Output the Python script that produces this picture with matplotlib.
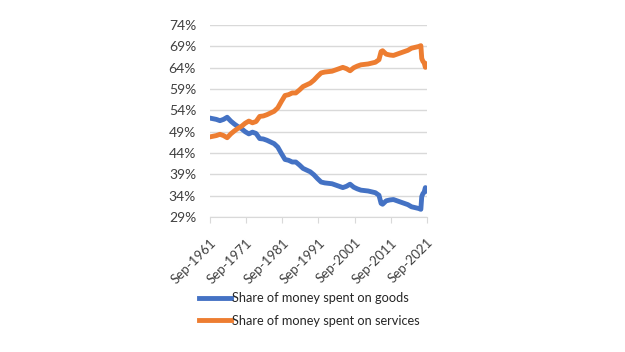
import matplotlib
matplotlib.use("Agg")
import matplotlib.pyplot as plt
import matplotlib.transforms as mtransforms
import pandas as pd

dates = ["1961-09", "1963-06", "1964-06", "1965-06", "1966-06", "1967-06", "1968-06",
         "1969-06", "1970-06", "1971-06", "1972-06", "1973-06", "1974-06", "1975-06",
         "1976-06", "1977-06", "1978-06", "1979-06", "1980-06", "1981-06", "1982-06",
         "1983-06", "1984-06", "1985-06", "1986-06", "1987-06", "1988-06", "1989-06",
         "1990-06", "1991-06", "1992-06", "1993-06", "1994-06", "1995-06", "1996-06",
         "1997-06", "1998-06", "1999-06", "2000-06", "2001-06", "2002-06", "2003-06",
         "2004-06", "2005-06", "2006-06", "2007-06", "2008-06", "2009-01", "2009-06",
         "2010-06", "2011-06", "2012-06", "2013-06", "2014-06", "2015-06", "2016-06",
         "2017-06", "2018-06", "2019-06", "2020-01", "2020-04", "2020-08", "2020-12",
         "2021-04", "2021-09"]

goods = [52.2, 51.9, 51.6, 51.9, 52.4, 51.5, 50.8,
         50.2, 49.7, 49.0, 48.5, 48.9, 48.6, 47.4,
         47.3, 47.0, 46.6, 46.2, 45.4, 43.9, 42.5,
         42.3, 41.9, 41.9, 41.2, 40.4, 40.0, 39.6,
         38.9, 38.0, 37.2, 37.0, 36.9, 36.8, 36.5,
         36.2, 35.9, 36.2, 36.7, 36.0, 35.6, 35.3,
         35.2, 35.1, 34.9, 34.7, 34.1, 32.2, 32.0,
         32.8, 33.0, 33.1, 32.8, 32.5, 32.2, 31.9,
         31.4, 31.2, 31.0, 30.8, 33.8, 34.5, 34.8,
         35.9, 35.2]

services = [47.8, 48.1, 48.4, 48.1, 47.6, 48.5, 49.2,
            49.8, 50.3, 51.0, 51.5, 51.1, 51.4, 52.6,
            52.7, 53.0, 53.4, 53.8, 54.6, 56.1, 57.5,
            57.7, 58.1, 58.1, 58.8, 59.6, 60.0, 60.4,
            61.1, 62.0, 62.8, 63.0, 63.1, 63.2, 63.5,
            63.8, 64.1, 63.8, 63.3, 64.0, 64.4, 64.7,
            64.8, 64.9, 65.1, 65.3, 65.9, 67.8, 68.0,
            67.2, 67.0, 66.9, 67.2, 67.5, 67.8, 68.1,
            68.6, 68.8, 69.0, 69.2, 66.2, 65.5, 65.2,
            64.1, 64.8]

tick_labels = ["Sep-1961", "Sep-1971", "Sep-1981", "Sep-1991", "Sep-2001", "Sep-2011", "Sep-2021"]
y_ticks = [29, 34, 39, 44, 49, 54, 59, 64, 69, 74]

x = pd.to_datetime(dates)
tick_pos = pd.to_datetime(tick_labels, format="%b-%Y")

plt.rcParams['font.family'] = ['Lato', 'DejaVu Sans']

fig = plt.figure(figsize=(6.25, 3.52), dpi=100)
ax = fig.add_axes([0.336, 0.3835, 0.347, 0.545])

ax.plot(x, goods, color="#4472C4", lw=3.5, label="Share of money spent on goods", solid_joinstyle="round")
ax.plot(x, services, color="#ED7D31", lw=3.5, label="Share of money spent on services", solid_joinstyle="round")

ax.set_ylim(29, 74)
ax.set_yticks(y_ticks)
ax.set_yticklabels([f"{v}%" for v in y_ticks])
ax.set_xlim(tick_pos[0], tick_pos[-1])
ax.set_xticks(tick_pos)
ax.set_xticklabels(tick_labels, rotation=45, ha="right", rotation_mode="anchor")
offset = mtransforms.ScaledTranslation(0.04, 0, fig.dpi_scale_trans)
for lbl in ax.get_xticklabels():
    lbl.set_transform(lbl.get_transform() + offset)

ax.grid(axis="y", color="#d9d9d9", lw=1)
ax.set_axisbelow(True)
for s in ["top", "right", "left"]:
    ax.spines[s].set_visible(False)
ax.spines["bottom"].set_color("#d9d9d9")
ax.tick_params(axis="y", length=0, labelsize=10, labelcolor="#404040", pad=10)
ax.tick_params(axis="x", length=4, color="#d9d9d9", labelsize=9.5, labelcolor="#404040", pad=10)

handles, labels = ax.get_legend_handles_labels()
fig.legend(handles, labels, loc="upper left", bbox_to_anchor=(0.311, 0.185),
           frameon=False, fontsize=9.2, handlelength=2.5, handletextpad=0.06,
           labelspacing=0.85, labelcolor="#262626", borderaxespad=0)

fig.savefig("out.png", dpi=100, facecolor="white")
